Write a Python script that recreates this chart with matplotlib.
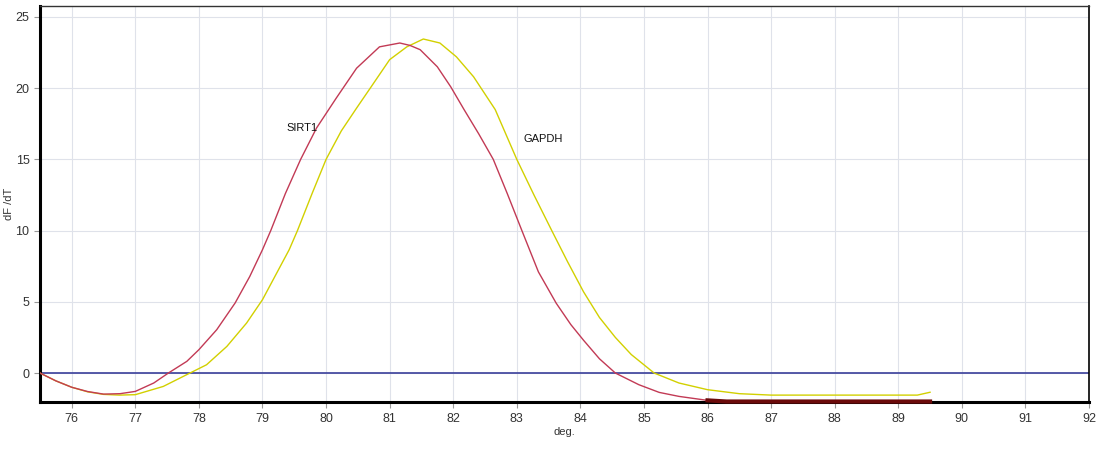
import numpy as np
import matplotlib
matplotlib.use('Agg')
import matplotlib.pyplot as plt

plt.rcParams['font.family'] = ['Liberation Sans', 'DejaVu Sans']

# melt curve values
sirt1_x = [75.5, 75.75, 76.0, 76.25, 76.5, 76.76, 77.0, 77.29, 77.52, 77.81,
           78.0, 78.28, 78.57, 78.8, 79.0, 79.13, 79.36, 79.6, 79.85, 80.16,
           80.48, 80.84, 81.16, 81.32, 81.48, 81.75, 81.96, 82.17, 82.4, 82.63,
           82.85, 83.08, 83.34, 83.62, 83.85, 84.05, 84.3, 84.55, 84.92, 85.24,
           85.55, 86.0, 86.3, 87.0, 88.0, 89.0, 89.5]
sirt1_y = [0.0, -0.55, -1.0, -1.3, -1.48, -1.45, -1.29, -0.7, 0.0, 0.82,
           1.64, 3.04, 4.92, 6.78, 8.66, 10.0, 12.6, 15.0, 17.2, 19.3,
           21.4, 22.9, 23.17, 23.0, 22.7, 21.5, 20.1, 18.5, 16.8, 15.0,
           12.6, 10.0, 7.1, 4.9, 3.4, 2.3, 1.0, 0.0, -0.82, -1.36,
           -1.64, -1.92, -2.0, -2.0, -2.0, -2.0, -2.0]

gapdh_x = [75.5, 75.75, 76.0, 76.25, 76.5, 76.75, 77.0, 77.44, 77.86, 78.12,
           78.44, 78.75, 79.0, 79.42, 79.55, 79.78, 80.0, 80.24, 80.48, 80.71,
           81.0, 81.27, 81.53, 81.79, 82.05, 82.32, 82.66, 83.0, 83.27, 83.55,
           83.8, 84.05, 84.3, 84.55, 84.8, 85.16, 85.55, 86.0, 86.5, 87.0,
           88.0, 89.0, 89.3, 89.5]
gapdh_y = [0.0, -0.55, -1.0, -1.32, -1.5, -1.55, -1.52, -0.94, 0.0, 0.58,
           1.87, 3.51, 5.15, 8.66, 10.0, 12.6, 15.0, 17.0, 18.6, 20.1,
           22.0, 22.9, 23.45, 23.17, 22.2, 20.8, 18.5, 15.0, 12.5, 10.0,
           7.8, 5.7, 3.9, 2.5, 1.3, 0.0, -0.7, -1.17, -1.45, -1.55,
           -1.55, -1.55, -1.55, -1.35]

labels = ['SIRT1', 'GAPDH']
label_pos = [(79.38, 17.2), (83.1, 16.4)]
xticks = list(range(76, 93))
yticks = [0, 5, 10, 15, 20, 25]

fig = plt.figure(figsize=(11.01, 4.59), dpi=100)
ax = fig.add_axes([0.0363, 0.124, 0.9528, 0.863])

ax.grid(True, color='#dfe2ea', linewidth=0.8)
ax.set_axisbelow(True)
ax.axhline(0, color='#3a3f9a', linewidth=1.2, zorder=2)

ax.plot(gapdh_x, gapdh_y, color='#d2d000', linewidth=1.0, zorder=3)
ax.plot(sirt1_x, sirt1_y, color='#c23a55', linewidth=1.0, zorder=3)
# dark band where SIRT1 sits on the lower edge
flat = [i for i, v in enumerate(sirt1_y) if v <= -1.92]
ax.plot([sirt1_x[i] for i in flat], [sirt1_y[i] for i in flat],
        color='#6b0a0a', linewidth=3.0, zorder=4, clip_on=False)

for lab, (tx, ty) in zip(labels, label_pos):
    ax.text(tx, ty, lab, fontsize=8, color='#111111', ha='left', va='center')

ax.set_xlim(75.5, 92)
ax.set_ylim(-2.04, 25.77)
ax.set_xticks(xticks)
ax.set_yticks(yticks)
ax.tick_params(axis='both', labelsize=9, colors='#333333', length=4, width=0.8)
ax.tick_params(axis='both', color='#999999')

ax.spines['left'].set_linewidth(2.2)
ax.spines['bottom'].set_linewidth(2.2)
ax.spines['top'].set_linewidth(1.0)
ax.spines['top'].set_color('#333333')
ax.spines['right'].set_linewidth(1.2)

ax.set_xlabel('deg.', fontsize=8, color='#333333', labelpad=2)
ax.set_ylabel('dF /dT', fontsize=8, color='#333333', labelpad=1)

fig.savefig('out.png', dpi=100)
